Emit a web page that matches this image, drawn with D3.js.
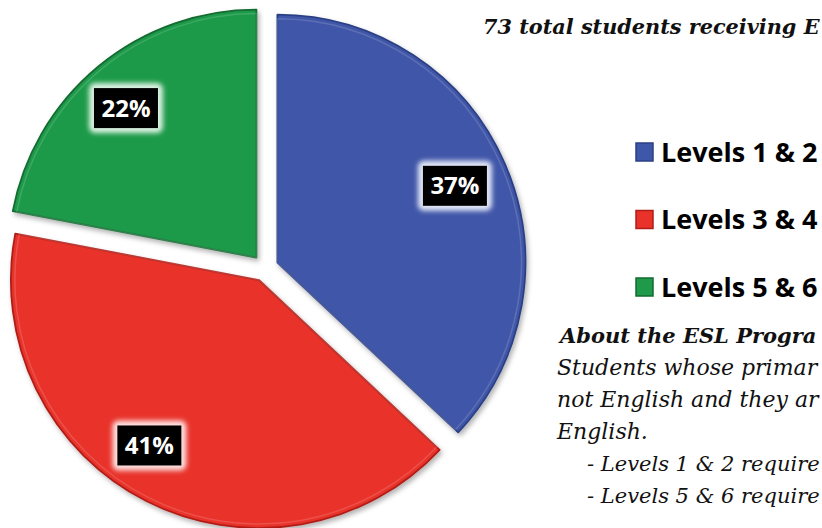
<!DOCTYPE html>
<html><head><meta charset="utf-8">
<script src="https://cdn.jsdelivr.net/npm/d3@7"></script>
<style>html,body{margin:0;padding:0;background:#fff;overflow:hidden}</style>
</head><body>
<svg id="chart" width="822" height="528"></svg>
<script>
// ---- data ----
const categories = ["Levels 1 & 2", "Levels 3 & 4", "Levels 5 & 6"];
const values = [37, 41, 22];
const titleText = "73 total students receiving E";
const noteTitle = "About the ESL Progra";
const noteLines = ["Students whose primar", "not English and they ar", "English."];
const bulletLines = ["- Levels 1 & 2 require", "- Levels 5 & 6 require"];

// ---- style ----
const colors = ["#3f57a8", "#e8322a", "#1f9a4a"];
const edgeColors = ["#2c3f85", "#b01d17", "#126b30"];
const glowColors = ["#e3e8f8", "#fde0df", "#dcf2e2"];
const labelRadius = [0.78, 0.80, 0.80];
const labelAngleShift = [0, 6.5, -1.5]; // degrees

const svg = d3.select("#chart");
const defs = svg.append("defs");
const sh = defs.append("filter").attr("id","shadow").attr("x","-10%").attr("y","-10%").attr("width","130%").attr("height","130%");
sh.append("feDropShadow").attr("dx",2).attr("dy",3).attr("stdDeviation",2.5).attr("flood-color","#000").attr("flood-opacity",0.3);
const glow = defs.append("filter").attr("id","glow").attr("x","-50%").attr("y","-50%").attr("width","200%").attr("height","200%");
glow.append("feGaussianBlur").attr("stdDeviation",2.5);

const cx = 265, cy = 268, R = 248, explode = 13.5;
const pie = d3.pie().sort(null).value(d => d).startAngle(0).endAngle(2*Math.PI);
const arcs = pie(values);
const arc = d3.arc().innerRadius(0).outerRadius(R);
const offArc = d3.arc().innerRadius(explode).outerRadius(explode);

const g = svg.append("g").attr("transform", `translate(${cx},${cy})`);
const slices = g.selectAll("g.slice").data(arcs).enter().append("g")
  .attr("class","slice")
  .attr("transform", d => { const c = offArc.centroid(d); return `translate(${c[0]},${c[1]})`; });

slices.append("path").attr("d", arc)
  .attr("fill", (d,i) => colors[i])
  .attr("stroke", (d,i) => edgeColors[i]).attr("stroke-width", 1.8)
  .attr("stroke-linejoin","round")
  .attr("filter","url(#shadow)");
slices.append("path").attr("d", d3.arc().innerRadius(0).outerRadius(R-4))
  .attr("fill","none").attr("stroke","rgba(255,255,255,0.15)").attr("stroke-width",1.5);

// percentage labels
function labelPos(d, i) {
  const a = (d.startAngle + d.endAngle) / 2 + labelAngleShift[i] * Math.PI / 180;
  const r = R * labelRadius[i];
  return [Math.sin(a) * r, -Math.cos(a) * r];
}
const lab = slices.append("g").attr("transform", (d,i) => { const c = labelPos(d,i); return `translate(${c[0]},${c[1]})`; });
const bw = 64, bh = 40;
lab.append("rect").attr("x",-bw/2-5).attr("y",-bh/2-5).attr("width",bw+10).attr("height",bh+10).attr("rx",6)
  .attr("fill",(d,i)=>glowColors[i]).attr("filter","url(#glow)");
lab.append("rect").attr("x",-bw/2).attr("y",-bh/2).attr("width",bw).attr("height",bh).attr("fill","#000");
lab.append("text").attr("text-anchor","middle").attr("dy","0.36em")
  .attr("fill","#fff").attr("font-family","'Open Sans', sans-serif").attr("font-weight",700).attr("font-size",24)
  .text(d => Math.round(d.value / d3.sum(values) * 100) + "%");

// title
svg.append("text").attr("x",483).attr("y",34)
  .attr("font-family","'DejaVu Serif', serif").attr("font-style","italic").attr("font-weight",700).attr("font-size",20.8)
  .attr("fill","#111").text(titleText);

// legend
const leg = svg.append("g");
const ly = d3.scalePoint().domain(categories).range([152, 287]);
const li = leg.selectAll("g").data(categories).enter().append("g")
  .attr("transform", d => `translate(636,${ly(d)})`);
li.append("rect").attr("x",0).attr("y",-9).attr("width",17).attr("height",18)
  .attr("fill",(d,i)=>colors[i]).attr("stroke",(d,i)=>edgeColors[i]).attr("stroke-width",1.5);
li.append("text").attr("x",25).attr("dy","0.36em")
  .attr("font-family","'Open Sans', sans-serif").attr("font-weight",700).attr("font-size",27)
  .attr("fill","#000").text(d => d);

// note block
svg.append("text").attr("x",560).attr("y",343)
  .attr("font-family","'DejaVu Serif', serif").attr("font-style","italic").attr("font-weight",700).attr("font-size",21)
  .attr("fill","#111").text(noteTitle);
svg.selectAll("text.note").data(noteLines).enter().append("text").attr("class","note")
  .attr("x",557).attr("y",(d,i)=>375+i*32)
  .attr("font-family","'DejaVu Serif', serif").attr("font-style","italic").attr("font-size",22)
  .attr("fill","#111").text(d=>d);
svg.selectAll("text.bullet").data(bulletLines).enter().append("text").attr("class","bullet")
  .attr("x",587).attr("y",(d,i)=>471+i*32)
  .attr("font-family","'DejaVu Serif', serif").attr("font-style","italic").attr("font-size",21)
  .attr("fill","#111").text(d=>d);
</script>
</body></html>
